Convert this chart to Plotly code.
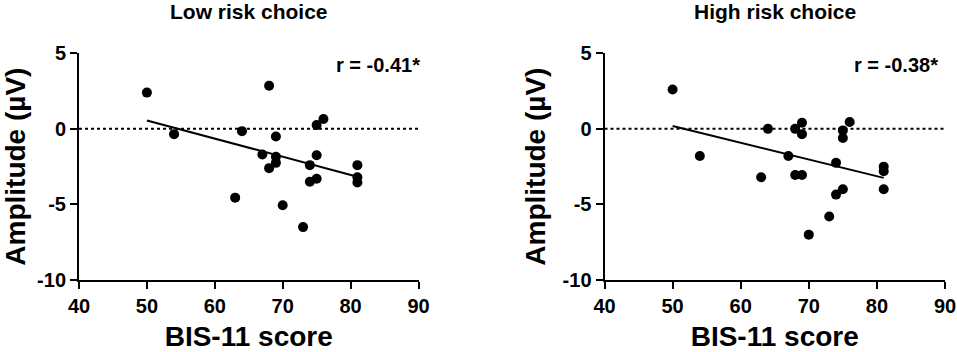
import numpy as np
import plotly.graph_objects as go

# ---- data ----
low_bis = [50, 54, 64, 68, 67, 69, 69, 69, 68, 63, 70, 73, 75, 76, 75, 74, 74, 75, 81, 81, 81]
low_amp = [2.4, -0.35, -0.15, 2.85, -1.7, -0.5, -1.85, -2.25, -2.6, -4.55, -5.05, -6.5, 0.25, 0.65, -1.75, -2.4, -3.5, -3.3, -2.4, -3.2, -3.55]

high_bis = [50, 54, 63, 64, 67, 68, 68, 69, 69, 69, 70, 73, 74, 74, 75, 75, 75, 76, 81, 81, 81]
high_amp = [2.6, -1.8, -3.2, 0.0, -1.8, 0.0, -3.05, 0.4, -0.35, -3.05, -7.0, -5.8, -2.25, -4.35, -0.1, -0.6, -4.0, 0.45, -2.5, -2.8, -4.0]

titles = ["Low risk choice", "High risk choice"]
r_labels = ["r = -0.41*", "r = -0.38*"]
x_ticks = [40, 50, 60, 70, 80, 90]
y_ticks = [5, 0, -5, -10]
y_ticktext = ["5", "0", "-5", "-10"]
x_title = "BIS-11 score"
y_title = "Amplitude (µV)"

FONT = "Liberation Sans, Arial, sans-serif"
W, H = 957, 352


def px(sx):                  # screen x -> paper x
    return sx / W


def py(sy):                  # screen y -> paper y
    return 1 - sy / H


fig = go.Figure()

panels = [
    dict(x=low_bis, y=low_amp, xd=[px(79), px(418.5)], ax="x", ay="y"),
    dict(x=high_bis, y=high_amp, xd=[px(604.5), px(945)], ax="x2", ay="y2"),
]
ydom = [py(280), py(53.3)]

for i, p in enumerate(panels):
    fig.add_trace(go.Scatter(x=[40, 90], y=[0, 0], mode="lines",
                             line=dict(color="black", width=2, dash="dot"),
                             xaxis=p["ax"], yaxis=p["ay"], hoverinfo="skip",
                             showlegend=False))
    xs = np.array(p["x"], dtype=float)
    ys = np.array(p["y"], dtype=float)
    m, b = np.polyfit(xs, ys, 1)
    fx = np.array([xs.min(), xs.max()])
    fig.add_trace(go.Scatter(x=fx, y=m * fx + b, mode="lines",
                             line=dict(color="black", width=2),
                             xaxis=p["ax"], yaxis=p["ay"], showlegend=False))
    fig.add_trace(go.Scatter(x=p["x"], y=p["y"], mode="markers",
                             marker=dict(color="black", size=10),
                             xaxis=p["ax"], yaxis=p["ay"], showlegend=False))

tickfont = dict(family=FONT, size=20, color="black", weight="bold")
titlefont = dict(family=FONT, size=28, color="black", weight="bold")
axis_common = dict(showgrid=False, zeroline=False, showline=True, linecolor="black",
                   linewidth=2, ticks="outside", ticklen=7, tickwidth=2, tickcolor="black",
                   automargin=False)

for i, p in enumerate(panels):
    sfx = "" if i == 0 else "2"
    fig.update_layout(**{
        "xaxis" + sfx: dict(axis_common, domain=p["xd"], range=[40, 90], tickvals=x_ticks,
                            anchor="y" + sfx, tickfont=tickfont,
                            title=dict(text=x_title, standoff=11, font=titlefont)),
        "yaxis" + sfx: dict(axis_common, domain=ydom, range=[-10, 5], tickvals=y_ticks,
                            ticktext=y_ticktext,
                            anchor="x" + sfx, tickfont=tickfont,
                            title=dict(text=y_title, standoff=9, font=titlefont)),
    })
    cx = (p["xd"][0] + p["xd"][1]) / 2
    fig.add_annotation(text=titles[i], x=cx, y=py(12), xref="paper", yref="paper",
                       xanchor="center", yanchor="middle", showarrow=False,
                       font=dict(family=FONT, size=21, color="black", weight="bold"))
    rx = px(422) if i == 0 else px(940)
    fig.add_annotation(text=r_labels[i], x=rx, y=py(65), xref="paper", yref="paper",
                       xanchor="right", yanchor="middle", showarrow=False,
                       font=dict(family=FONT, size=20, color="black", weight="bold"))

fig.update_layout(width=W, height=H, margin=dict(l=0, r=0, t=0, b=0),
                  plot_bgcolor="white", paper_bgcolor="white", showlegend=False)

fig.write_html("out.html", config={"displayModeBar": False},
               post_script="document.body.style.margin='0';document.body.style.overflow='hidden';")
